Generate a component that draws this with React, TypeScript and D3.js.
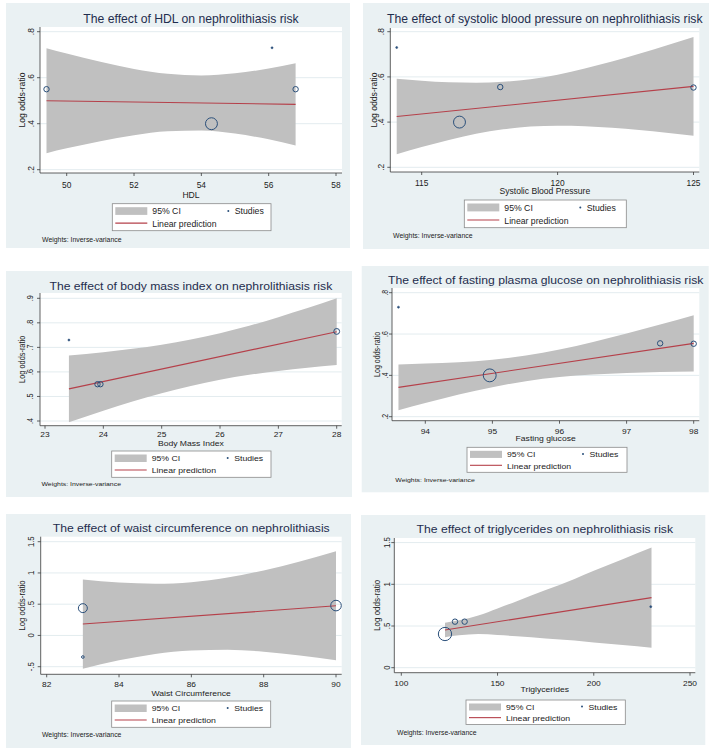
import React from 'react';
import * as d3 from 'd3';

// ---------- Data ----------
// Panel 1: HDL
const hdlStudyX = [49.4, 54.3, 56.1, 56.8];
const hdlStudyY = [0.55, 0.40, 0.73, 0.55];
const hdlWeight = [6, 29, 0.8, 6];
const hdlCiX = [49.4, 50, 51, 52, 53, 54, 55, 56, 56.8];
const hdlCiLo = [0.272, 0.293, 0.324, 0.350, 0.367, 0.370, 0.357, 0.332, 0.305];
const hdlCiHi = [0.728, 0.705, 0.669, 0.638, 0.617, 0.610, 0.619, 0.640, 0.663];
const hdlPredX = [49.4, 56.8];
const hdlPredY = [0.500, 0.484];
const hdlXTicks = [50, 52, 54, 56, 58];
const hdlYTicks = [0.2, 0.4, 0.6, 0.8];
const hdlYTickLabels = ['.2', '.4', '.6', '.8'];

// Panel 2: systolic blood pressure
const sbpStudyX = [114.08, 116.39, 117.89, 125];
const sbpStudyY = [0.73, 0.40, 0.555, 0.553];
const sbpWeight = [0.8, 29, 6, 6];
const sbpCiX = [114.08, 115, 116, 117, 118, 119, 120, 121, 122, 123, 124, 125];
const sbpCiLo = [0.258, 0.290, 0.321, 0.348, 0.368, 0.380, 0.384, 0.382, 0.375, 0.365, 0.353, 0.340];
const sbpCiHi = [0.592, 0.583, 0.576, 0.574, 0.578, 0.590, 0.610, 0.637, 0.668, 0.702, 0.739, 0.776];
const sbpPredX = [114.08, 125];
const sbpPredY = [0.425, 0.558];
const sbpXTicks = [115, 120, 125];
const sbpYTicks = [0.2, 0.4, 0.6, 0.8];
const sbpYTickLabels = ['.2', '.4', '.6', '.8'];

// Panel 3: body mass index
const bmiStudyX = [23.41, 23.9, 23.95, 28];
const bmiStudyY = [0.73, 0.55, 0.55, 0.765];
const bmiWeight = [0.8, 6, 6, 7];
const bmiCiX = [23.41, 24, 24.5, 25, 25.5, 26, 26.5, 27, 27.5, 28];
const bmiCiLo = [0.395, 0.442, 0.479, 0.513, 0.543, 0.568, 0.588, 0.604, 0.617, 0.628];
const bmiCiHi = [0.667, 0.680, 0.694, 0.711, 0.732, 0.758, 0.788, 0.823, 0.860, 0.900];
const bmiPredX = [23.41, 28];
const bmiPredY = [0.531, 0.764];
const bmiXTicks = [23, 24, 25, 26, 27, 28];
const bmiYTicks = [0.4, 0.5, 0.6, 0.7, 0.8, 0.9];
const bmiYTickLabels = ['.4', '.5', '.6', '.7', '.8', '.9'];

// Panel 4: fasting plasma glucose
const fpgStudyX = [93.6, 94.96, 97.5, 98];
const fpgStudyY = [0.73, 0.40, 0.555, 0.553];
const fpgWeight = [0.8, 34, 6, 6];
const fpgCiX = [93.6, 94, 94.5, 95, 95.5, 96, 96.5, 97, 97.5, 98];
const fpgCiLo = [0.231, 0.266, 0.307, 0.343, 0.372, 0.392, 0.404, 0.411, 0.416, 0.419];
const fpgCiHi = [0.453, 0.457, 0.464, 0.476, 0.496, 0.525, 0.561, 0.602, 0.646, 0.691];
const fpgPredX = [93.6, 98];
const fpgPredY = [0.342, 0.555];
const fpgXTicks = [94, 95, 96, 97, 98];
const fpgYTicks = [0.2, 0.4, 0.6, 0.8];
const fpgYTickLabels = ['.2', '.4', '.6', '.8'];

// Panel 5: waist circumference
const wcStudyX = [83, 83, 90];
const wcStudyY = [0.437, -0.345, 0.478];
const wcWeight = [16.5, 1.4, 23];
const wcCiX = [83, 84, 85, 86, 87, 88, 89, 90];
const wcCiLo = [-0.533, -0.398, -0.296, -0.239, -0.229, -0.259, -0.320, -0.398];
const wcCiHi = [0.897, 0.846, 0.827, 0.853, 0.927, 1.041, 1.184, 1.346];
const wcPredX = [83, 90];
const wcPredY = [0.182, 0.474];
const wcXTicks = [82, 84, 86, 88, 90];
const wcYTicks = [-0.5, 0, 0.5, 1, 1.5];
const wcYTickLabels = ['-.5', '0', '.5', '1', '1.5'];

// Panel 6: triglycerides
const tgStudyX = [122.7, 127.9, 132.9, 229.6];
const tgStudyY = [0.404, 0.552, 0.552, 0.732];
const tgWeight = [36, 6, 6, 0.8];
const tgCiX = [122.7, 130, 140, 150, 160, 175, 190, 200, 215, 230];
const tgCiLo = [0.366, 0.388, 0.403, 0.391, 0.377, 0.351, 0.325, 0.302, 0.271, 0.240];
const tgCiHi = [0.538, 0.568, 0.627, 0.711, 0.797, 0.931, 1.065, 1.162, 1.301, 1.440];
const tgPredX = [122.7, 230];
const tgPredY = [0.452, 0.840];
const tgXTicks = [100, 150, 200, 250];
const tgYTicks = [0, 0.5, 1, 1.5];
const tgYTickLabels = ['0', '.5', '1', '1.5'];

const titles = [
  'The effect of HDL on nephrolithiasis risk',
  'The effect of systolic blood pressure on nephrolithiasis risk',
  'The effect of body mass index on nephrolithiasis risk',
  'The effect of fasting plasma glucose on nephrolithiasis risk',
  'The effect of waist circumference on nephrolithiasis',
  'The effect of triglycerides on nephrolithiasis risk',
];
const xTitles = ['HDL', 'Systolic Blood Pressure', 'Body Mass Index', 'Fasting glucose', 'Waist Circumference', 'Triglycerides'];
const yTitle = 'Log odds-ratio';
const legendLabels = ['95% CI', 'Studies', 'Linear prediction'];
const weightsNote = 'Weights: Inverse-variance';

// ---------- Layout ----------
type Layout = {
  bg: [number, number, number, number];
  plot: { l: number; t: number; r: number; b: number };
  xDom: [number, number]; xPix: [number, number];
  yDom: [number, number]; yPix: [number, number];
  titleY: number; xTickY: number; xTitleY: number; yTickX: number; yTitleX: number;
  legend: [number, number, number, number];
  note: [number, number];
  sy: number;
};

const layouts: Layout[] = [
  { bg: [6, 3, 344, 245], plot: { l: 40, t: 27, r: 342, b: 173 }, xDom: [50, 58], xPix: [66.7, 336], yDom: [0.2, 0.8], yPix: [169.7, 31.7],
    titleY: 23, xTickY: 188, xTitleY: 197.5, yTickX: 33.5, yTitleX: 24.5, legend: [112.3, 203.7, 158.7, 27], note: [42, 241.5], sy: 1 },
  { bg: [363, 3, 346, 246], plot: { l: 390.3, t: 28, r: 699.3, b: 172 }, xDom: [115, 125], xPix: [421.7, 693.5], yDom: [0.2, 0.8], yPix: [167.3, 31.7],
    titleY: 22.7, xTickY: 185.7, xTitleY: 194.3, yTickX: 384.3, yTitleX: 377.3, legend: [464.3, 200, 162, 27.7], note: [393, 238.3], sy: 1 },
  { bg: [6, 271, 346, 226], plot: { l: 40, t: 293, r: 341.7, b: 425.7 }, xDom: [23, 28], xPix: [45, 336.7], yDom: [0.4, 0.9], yPix: [421, 298.3],
    titleY: 290, xTickY: 437.3, xTitleY: 446, yTickX: 33.3, yTitleX: 24.5, legend: [111.7, 451, 159.3, 26.3], note: [41.5, 486], sy: 0.86 },
  { bg: [361.7, 266, 347, 226.3], plot: { l: 392, t: 288, r: 699.3, b: 420.7 }, xDom: [94, 98], xPix: [425.3, 693.7], yDom: [0.2, 0.8], yPix: [416.7, 292.7],
    titleY: 284, xTickY: 433.6, xTitleY: 441.3, yTickX: 387.7, yTitleX: 380, legend: [467, 447.3, 160, 25], note: [395.3, 481.7], sy: 0.82 },
  { bg: [6, 514, 345, 234], plot: { l: 40.7, t: 536.7, r: 341.7, b: 674.3 }, xDom: [82, 90], xPix: [46.7, 336], yDom: [-0.5, 1.5], yPix: [666.7, 541.7],
    titleY: 532.3, xTickY: 686.5, xTitleY: 695.6, yTickX: 34, yTitleX: 24.5, legend: [111.7, 701, 159, 26.3], note: [42, 736.7], sy: 0.92 },
  { bg: [361, 515, 344.3, 230], plot: { l: 394.3, t: 538, r: 695.3, b: 672.7 }, xDom: [100, 250], xPix: [401.3, 690], yDom: [0, 1.5], yPix: [667.7, 542.6],
    titleY: 533.3, xTickY: 686, xTitleY: 691.7, yTickX: 390.3, yTitleX: 380, legend: [466, 700, 159.3, 24.5], note: [397, 735], sy: 0.93 },
];

const panelData = [
  { sx: hdlStudyX, sy: hdlStudyY, w: hdlWeight, cx: hdlCiX, lo: hdlCiLo, hi: hdlCiHi, px: hdlPredX, py: hdlPredY, xt: hdlXTicks, yt: hdlYTicks, ytl: hdlYTickLabels },
  { sx: sbpStudyX, sy: sbpStudyY, w: sbpWeight, cx: sbpCiX, lo: sbpCiLo, hi: sbpCiHi, px: sbpPredX, py: sbpPredY, xt: sbpXTicks, yt: sbpYTicks, ytl: sbpYTickLabels },
  { sx: bmiStudyX, sy: bmiStudyY, w: bmiWeight, cx: bmiCiX, lo: bmiCiLo, hi: bmiCiHi, px: bmiPredX, py: bmiPredY, xt: bmiXTicks, yt: bmiYTicks, ytl: bmiYTickLabels },
  { sx: fpgStudyX, sy: fpgStudyY, w: fpgWeight, cx: fpgCiX, lo: fpgCiLo, hi: fpgCiHi, px: fpgPredX, py: fpgPredY, xt: fpgXTicks, yt: fpgYTicks, ytl: fpgYTickLabels },
  { sx: wcStudyX, sy: wcStudyY, w: wcWeight, cx: wcCiX, lo: wcCiLo, hi: wcCiHi, px: wcPredX, py: wcPredY, xt: wcXTicks, yt: wcYTicks, ytl: wcYTickLabels },
  { sx: tgStudyX, sy: tgStudyY, w: tgWeight, cx: tgCiX, lo: tgCiLo, hi: tgCiHi, px: tgPredX, py: tgPredY, xt: tgXTicks, yt: tgYTicks, ytl: tgYTickLabels },
];

const FONT = "'Liberation Sans', Arial, Helvetica, sans-serif";
const BG = '#EAF1F3';
const GRID = '#E3ECEF';
const BAND = '#C0C0C0';
const PRED = '#B5404A';
const NAVY = '#2A4F7A';
const TITLE = '#1F2D4E';
const AXIS = '#3a3a3a';
const TXT = '#222';

const rScale = d3.scaleSqrt().domain([0, 40]).range([0, 7]);

function T({ x, y, sy, rot, size, anchor, fill, children }: any) {
  const t = `translate(${x},${y}) scale(1,${sy})${rot ? ' rotate(-90)' : ''}`;
  return <text transform={t} textAnchor={anchor || 'start'} fontSize={size} fill={fill || TXT}>{children}</text>;
}

function Panel({ i }: { i: number }) {
  const L = layouts[i];
  const D = panelData[i];
  const { plot, sy } = L;
  const x = d3.scaleLinear().domain(L.xDom).range(L.xPix);
  const y = d3.scaleLinear().domain(L.yDom).range(L.yPix);
  const band = D.cx.map((v, k) => ({ x: v, lo: D.lo[k], hi: D.hi[k] }));
  const area = d3.area<{ x: number; lo: number; hi: number }>()
    .x(d => x(d.x)).y0(d => y(d.lo)).y1(d => y(d.hi)).curve(d3.curveMonotoneX);
  const pred = D.px.map((v, k) => [x(v), y(D.py[k])] as [number, number]);
  const line = d3.line();
  const [lx, ly, lw, lh] = L.legend;
  const cxMid = (plot.l + plot.r) / 2;
  const cyMid = (plot.t + plot.b) / 2;
  return (
    <g>
      <rect x={L.bg[0]} y={L.bg[1]} width={L.bg[2]} height={L.bg[3]} fill={BG} />
      <rect x={plot.l} y={plot.t} width={plot.r - plot.l} height={plot.b - plot.t} fill="#fff" />
      {D.yt.map((t, k) => (
        <line key={'g' + k} x1={plot.l} x2={plot.r} y1={y(t)} y2={y(t)} stroke={GRID} strokeWidth={1} />
      ))}
      <path d={area(band) || ''} fill={BAND} />
      <path d={line(pred) || ''} stroke={PRED} strokeWidth={1.1} fill="none" />
      {D.sx.map((v, k) => {
        const r = rScale(D.w[k]);
        const small = r < 1.2;
        return (
          <circle key={'s' + k} cx={x(v)} cy={y(D.sy[k])} r={small ? 1 : r}
            fill={small ? NAVY : 'none'} stroke={NAVY} strokeWidth={small ? 0.6 : 1} />
        );
      })}
      {/* axes */}
      <line x1={plot.l} x2={plot.l} y1={plot.t} y2={plot.b} stroke={AXIS} strokeWidth={0.8} />
      <line x1={plot.l} x2={plot.r} y1={plot.b} y2={plot.b} stroke={AXIS} strokeWidth={0.8} />
      {D.yt.map((t, k) => (
        <g key={'yt' + k}>
          <line x1={plot.l - 3} x2={plot.l} y1={y(t)} y2={y(t)} stroke={AXIS} strokeWidth={0.8} />
          <T x={L.yTickX} y={y(t)} sy={sy} rot size={8.4} anchor="middle">{D.ytl[k]}</T>
        </g>
      ))}
      {D.xt.map((t, k) => (
        <g key={'xt' + k}>
          <line x1={x(t)} x2={x(t)} y1={plot.b} y2={plot.b + 3} stroke={AXIS} strokeWidth={0.8} />
          <T x={x(t)} y={L.xTickY} sy={sy} size={8.4} anchor="middle">{t}</T>
        </g>
      ))}
      <T x={L.yTitleX} y={cyMid} sy={sy} rot size={8.6} anchor="middle">{yTitle}</T>
      <T x={cxMid} y={L.xTitleY} sy={sy} size={8.6} anchor="middle">{xTitles[i]}</T>
      <T x={cxMid} y={L.titleY} sy={sy} size={12.2} anchor="middle" fill={TITLE}>{titles[i]}</T>
      {/* legend */}
      <rect x={lx} y={ly} width={lw} height={lh} fill="#fff" stroke="#8a8a8a" strokeWidth={0.8} />
      <rect x={lx + 3} y={ly + 3.5} width={32} height={lh * 0.285} fill={BAND} />
      <T x={lx + 40} y={ly + lh * 0.39} sy={sy} size={8.7}>{legendLabels[0]}</T>
      <circle cx={lx + 116} cy={ly + lh * 0.27} r={1} fill={NAVY} />
      <T x={lx + 122.5} y={ly + lh * 0.39} sy={sy} size={8.7}>{legendLabels[1]}</T>
      <line x1={lx + 3} x2={lx + 35} y1={ly + lh * 0.72} y2={ly + lh * 0.72} stroke={PRED} strokeWidth={1.1} />
      <T x={lx + 40} y={ly + lh * 0.85} sy={sy} size={8.7}>{legendLabels[2]}</T>
      <T x={L.note[0]} y={L.note[1]} sy={sy} size={6.9}>{weightsNote}</T>
    </g>
  );
}

export default function App() {
  return (
    <svg width={714} height={753} style={{ position: 'absolute', left: 0, top: 0, background: '#fff' }} fontFamily={FONT}>
      <rect x={0} y={0} width={714} height={753} fill="#fff" />
      {layouts.map((_, i) => <Panel key={i} i={i} />)}
    </svg>
  );
}
